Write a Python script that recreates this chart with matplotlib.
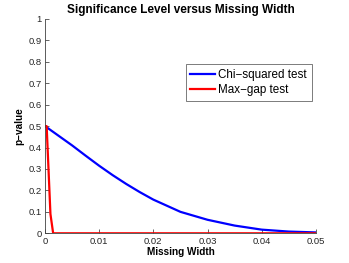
import numpy as np
import matplotlib
matplotlib.use("Agg")
import matplotlib.pyplot as plt

plt.rcParams["font.family"] = ["Liberation Sans", "DejaVu Sans"]

# 读图得到的数据
width_chi = [0.0, 0.0025, 0.005, 0.0075, 0.01, 0.0125, 0.015, 0.0175, 0.02, 0.025, 0.03, 0.035, 0.04, 0.045, 0.05]
p_chi = [0.5, 0.455, 0.41, 0.362, 0.315, 0.271, 0.23, 0.192, 0.157, 0.10, 0.063, 0.036, 0.017, 0.008, 0.004]
width_gap = [0.0, 0.0003, 0.001, 0.0015, 0.01, 0.02, 0.03, 0.04, 0.05]
p_gap = [0.5, 0.5, 0.09, 0.0, 0.0, 0.0, 0.0, 0.0, 0.0]

xticks = [0, 0.01, 0.02, 0.03, 0.04, 0.05]
xticklabels = ["0", "0.01", "0.02", "0.03", "0.04", "0.05"]
yticks = [0, 0.1, 0.2, 0.3, 0.4, 0.5, 0.6, 0.7, 0.8, 0.9, 1]
yticklabels = ["0", "0.1", "0.2", "0.3", "0.4", "0.5", "0.6", "0.7", "0.8", "0.9", "1"]

fig = plt.figure(figsize=(3.49, 2.63), dpi=100)
ax = fig.add_axes([0.129, 0.113, 0.776, 0.815])

ax.plot(width_chi, p_chi, color="#0000ff", lw=1.6, label="Chi\u2212squared test")
ax.plot(width_gap, p_gap, color="#ff0000", lw=1.6, label="Max\u2212gap test")

ax.set_xlim(0, 0.05)
ax.set_ylim(0, 1)
ax.set_xticks(xticks)
ax.set_xticklabels(xticklabels)
ax.set_yticks(yticks)
ax.set_yticklabels(yticklabels)
ax.tick_params(direction="in", length=3, width=0.5, labelsize=6.8, colors="#262626", pad=2.5)
for s in ["top", "right"]:
    ax.spines[s].set_visible(False)
for s in ["left", "bottom"]:
    ax.spines[s].set_linewidth(0.6)
    ax.spines[s].set_color("#404040")

ax.set_title("Significance Level versus Missing Width", fontsize=8.5, fontweight="bold", pad=4)
ax.set_xlabel("Missing Width", fontsize=7.2, fontweight="bold", labelpad=1)
ax.set_ylabel("p\u2212value", fontsize=7.2, fontweight="bold", labelpad=3)

leg = ax.legend(loc="upper right", bbox_to_anchor=(0.984, 0.79), fontsize=8.4,
                frameon=True, fancybox=False, handlelength=2.1, borderpad=0.4,
                labelspacing=0.3, handletextpad=0.3, borderaxespad=0)
leg.get_frame().set_edgecolor("#404040")
leg.get_frame().set_linewidth(0.6)

fig.savefig("out.png", dpi=100)
